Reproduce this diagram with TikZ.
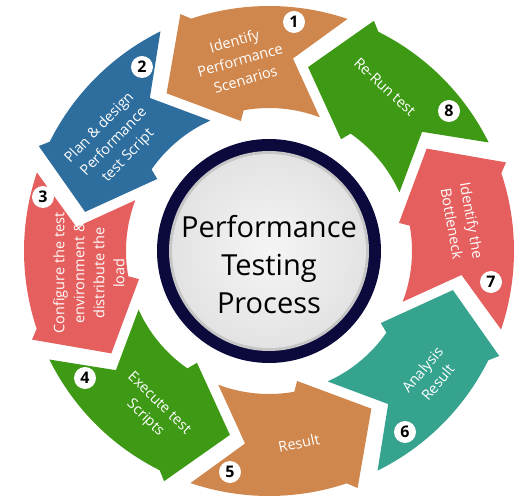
\documentclass[tikz,border=0pt]{standalone}
\usepackage{fontspec}
\setmainfont{Open Sans}
\usetikzlibrary{shadings}
\definecolor{segorange}{RGB}{208,135,77}
\definecolor{segblue}{RGB}{46,110,158}
\definecolor{segred}{RGB}{228,95,94}
\definecolor{seggreen}{RGB}{62,154,20}
\definecolor{segteal}{RGB}{54,163,143}
\definecolor{ringnavy}{RGB}{12,10,60}
\newcommand\arrowseg[2]{%
  \fill[#2] (71.3+#1:245pt) arc[start angle=71.3+#1, end angle=108.5+#1, radius=245pt]
    -- (110.5+#1:253pt) -- (123+#1:188pt) -- (102.2+#1:133pt) -- (100.2+#1:143pt)
    arc[start angle=100.2+#1, end angle=69.2+#1, radius=143pt]
    -- (82.9+#1:194pt) -- cycle;}
\tikzset{
  segtext/.style={text=white, align=center, font=\fontsize{14.5}{20}\selectfont, inner sep=0pt},
  badge/.style={circle, fill=white, minimum size=22pt, inner sep=0pt, font=\fontsize{16}{16}\selectfont\bfseries, text=black}
}
\begin{document}
\begin{tikzpicture}[x=1pt,y=1pt]
\useasboundingbox (-269,-249) rectangle (255,251);
% arrow segments
\arrowseg{0}{segorange}
\arrowseg{45}{segblue}
\arrowseg{90}{segred}
\arrowseg{135}{seggreen}
\arrowseg{180}{segorange}
\arrowseg{225}{segteal}
\arrowseg{270}{segred}
\arrowseg{315}{seggreen}
% central circle
\fill[ringnavy] (0,0) circle (112pt);
\fill[gray!45] (0,0) circle (100pt);
\shade[inner color=gray!8, outer color=gray!22] (0,0) circle (97pt);
\node[align=center, font=\fontsize{29}{38}\selectfont, text=black] (center) at (0,-14) {Performance\\Testing\\Process};
% segment texts
\node[segtext, rotate=16] (t1) at (-29,191) {Identify\\Performance\\Scenarios};
\node[segtext, rotate=46] (t2) at (-155,109) {Plan \& design\\Performance\\test Script};
\node[segtext, rotate=90] (t3) at (-180,-22) {Configure the test\\environment \&\\distribute the\\load};
\node[segtext, rotate=-44] (t4) at (-117,-160) {Execute test\\Scripts};
\node[segtext, rotate=12] (t5) at (30,-192) {Result};
\node[segtext, rotate=50] (t6) at (161,-125) {Analysis\\Result};
\node[segtext, rotate=-80] (t7) at (193,29) {Identify the\\Bottleneck};
\node[segtext, rotate=-43] (t8) at (116,164) {Re-Run test};
% badges
\node[badge] (b1) at (25,229) {1};
\node[badge] (b2) at (-127,184) {2};
\node[badge] (b3) at (-226,54) {3};
\node[badge] (b4) at (-184,-127) {4};
\node[badge] (b5) at (-39,-221) {5};
\node[badge] (b6) at (136,-181) {6};
\node[badge] (b7) at (222,-31) {7};
\node[badge] (b8) at (180,140) {8};
\end{tikzpicture}
\end{document}
